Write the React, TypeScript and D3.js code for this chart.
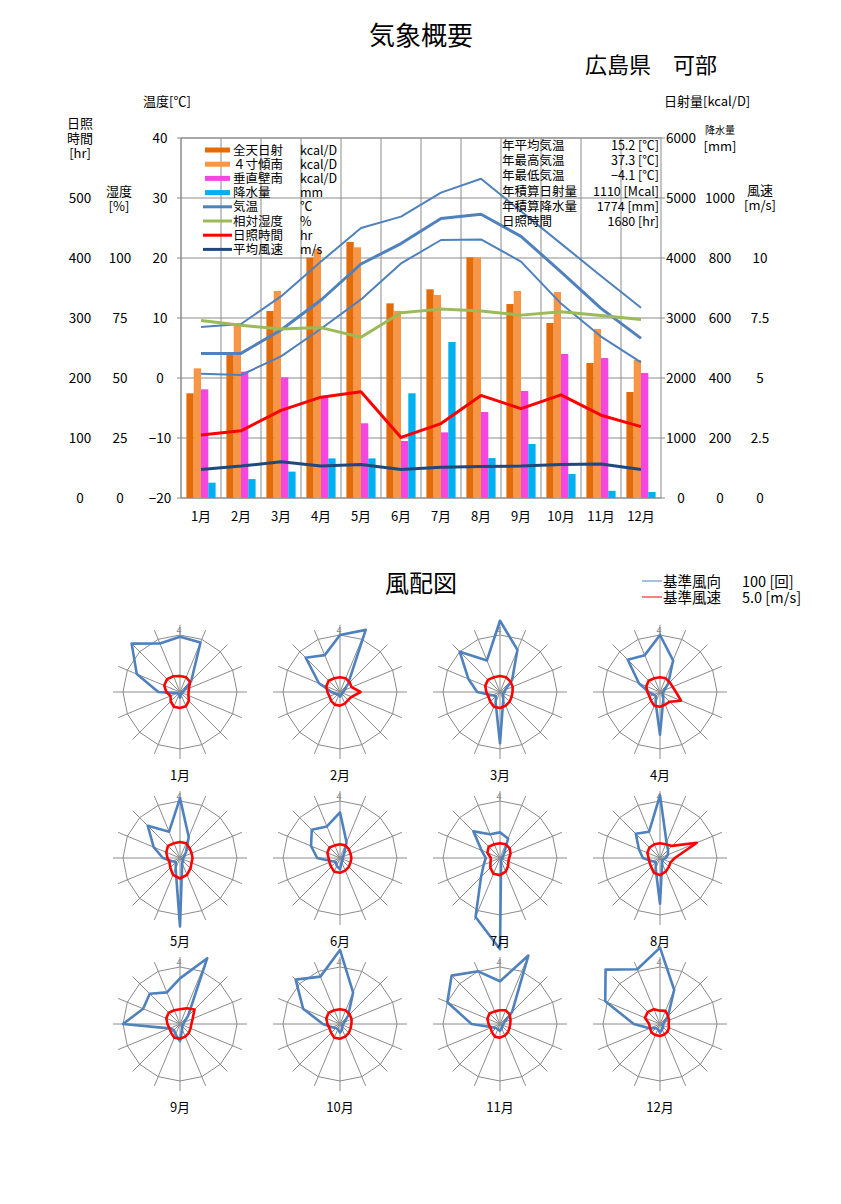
import React from 'react';
import * as d3 from 'd3';

const months = ['1月', '2月', '3月', '4月', '5月', '6月', '7月', '8月', '9月', '10月', '11月', '12月'];
const solarTotal = [1745, 2383, 3117, 4006, 4267, 3244, 3478, 4011, 3233, 2917, 2250, 1767];
const solarTilt = [2161, 2867, 3450, 4150, 4178, 3117, 3383, 4011, 3450, 3433, 2817, 2300];
const solarVertical = [1811, 2106, 2011, 1672, 1245, 950, 1094, 1433, 1783, 2400, 2333, 2083];
const precipitation = [51, 63, 88, 132, 132, 349, 520, 133, 180, 80, 24, 20];
const tempMax = [8.5, 9.0, 13.6, 19.4, 25.0, 26.9, 30.9, 33.2, 27.8, 22.4, 17.0, 11.7];
const tempMean = [4.1, 4.1, 8.0, 13.0, 19.0, 22.4, 26.6, 27.3, 23.6, 17.7, 11.6, 6.6];
const tempMin = [0.7, 0.5, 3.6, 8.2, 13.1, 19.1, 23.0, 23.1, 19.4, 12.4, 6.9, 2.6];
const humidity = [74, 72, 70.4, 71, 67, 77.2, 78.7, 77.9, 76.2, 77.6, 76, 74.4];
const sunshine = [105, 112, 146, 168, 177, 101, 124, 171, 149, 172, 138, 119];
const windSpeed = [1.19, 1.33, 1.51, 1.33, 1.4, 1.19, 1.28, 1.31, 1.33, 1.4, 1.42, 1.19];

const tempTicks = [-20, -10, 0, 10, 20, 30, 40];
const hrTicks = [0, 100, 200, 300, 400, 500];
const humTicks = [0, 25, 50, 75, 100];
const solarTicks = [0, 1000, 2000, 3000, 4000, 5000, 6000];
const precipTicks = [0, 200, 400, 600, 800, 1000];
const windTicks = [0, 2.5, 5, 7.5, 10];

const statLabels = ['年平均気温', '年最高気温', '年最低気温', '年積算日射量', '年積算降水量', '日照時間'];
const statValues = ['15.2 [℃]', '37.3 [℃]', '−4.1 [℃]', '1110 [Mcal]', '1774 [mm]', '1680 [hr]'];

// wind rose: 16 directions N, NNE, NE, ... NNW (clockwise)
const windFreq = [
  [97, 94, 28, 8, 5, 3, 3, 5, 10, 5, 5, 5, 38, 82, 120, 92],
  [100, 118, 20, 8, 6, 4, 5, 6, 8, 6, 6, 8, 15, 40, 85, 70],
  [125, 80, 30, 10, 8, 6, 8, 15, 90, 20, 10, 15, 40, 60, 100, 60],
  [100, 60, 20, 8, 6, 5, 8, 15, 75, 20, 10, 12, 20, 40, 80, 70],
  [105, 40, 15, 8, 6, 5, 8, 10, 120, 20, 10, 15, 30, 50, 80, 50],
  [80, 30, 10, 6, 5, 5, 6, 8, 20, 15, 10, 15, 40, 55, 70, 60],
  [45, 37, 10, 5, 5, 3, 3, 5, 160, 112, 47, 31, 25, 35, 66, 45],
  [110, 30, 20, 15, 10, 6, 6, 10, 80, 20, 10, 15, 30, 40, 60, 50],
  [80, 125, 20, 8, 6, 5, 6, 10, 30, 20, 15, 20, 100, 70, 75, 60],
  [130, 60, 20, 8, 6, 5, 6, 10, 15, 10, 10, 15, 30, 70, 110, 90],
  [75, 130, 30, 8, 6, 5, 6, 8, 12, 10, 10, 15, 50, 100, 120, 100],
  [134, 65, 20, 8, 6, 5, 8, 10, 15, 10, 10, 20, 46, 104, 135, 104],
];
const windDirSpeed = [
  [1.4, 1.4, 1.25, 0.85, 0.75, 0.8, 1.1, 1.35, 1.4, 1.4, 1.15, 0.9, 1.2, 1.5, 1.6, 1.5],
  [1.3, 1.3, 1.2, 1.1, 1.8, 1.1, 1.0, 1.1, 1.2, 1.2, 1.1, 1.0, 1.1, 1.3, 1.4, 1.3],
  [1.4, 1.4, 1.3, 1.2, 1.1, 1.1, 1.2, 1.3, 1.4, 1.4, 1.2, 1.1, 1.2, 1.4, 1.5, 1.4],
  [1.3, 1.3, 1.2, 1.2, 1.4, 2.0, 1.2, 1.2, 1.3, 1.3, 1.1, 1.0, 1.1, 1.3, 1.4, 1.3],
  [1.4, 1.4, 1.2, 1.1, 1.1, 1.1, 1.3, 1.6, 1.8, 1.6, 1.2, 1.0, 1.1, 1.3, 1.5, 1.4],
  [1.2, 1.2, 1.1, 1.0, 1.0, 1.0, 1.1, 1.2, 1.3, 1.3, 1.1, 1.0, 1.0, 1.2, 1.3, 1.2],
  [1.3, 1.3, 1.2, 1.0, 0.8, 0.8, 1.0, 1.3, 1.5, 1.5, 1.2, 0.9, 0.8, 1.2, 1.4, 1.3],
  [1.3, 1.3, 1.5, 3.5, 1.3, 1.0, 1.1, 1.3, 1.5, 1.4, 1.1, 1.0, 1.0, 1.2, 1.3, 1.3],
  [1.3, 1.5, 1.8, 1.2, 1.0, 1.0, 1.1, 1.2, 1.3, 1.3, 1.1, 1.0, 1.1, 1.3, 1.4, 1.3],
  [1.3, 1.3, 1.2, 1.1, 1.0, 1.0, 1.1, 1.2, 1.3, 1.3, 1.1, 1.0, 1.1, 1.3, 1.4, 1.3],
  [1.2, 1.3, 1.2, 1.0, 0.9, 0.9, 1.0, 1.1, 1.2, 1.2, 1.0, 0.9, 1.0, 1.2, 1.3, 1.2],
  [1.17, 1.25, 1.0, 0.85, 0.76, 0.85, 0.94, 1.0, 1.05, 1.05, 1.05, 0.95, 0.95, 1.43, 1.5, 1.4],
];

const FONT = "'Noto Sans CJK JP', 'Noto Sans', sans-serif";
const GRID = '#8c8c8c';
const C = {
  total: '#E36C09',
  tilt: '#F79646',
  vertical: '#F446E0',
  precip: '#00B0F0',
  temp: '#4F81BD',
  hum: '#9BBB59',
  sun: '#FF0000',
  wind: '#1F497D',
};

const plot = { left: 181, right: 661, top: 138, bottom: 498 };

const legendItems = [
  { label: '全天日射', unit: 'kcal/D', color: C.total, kind: 'bar' },
  { label: '４寸傾南', unit: 'kcal/D', color: C.tilt, kind: 'bar' },
  { label: '垂直壁南', unit: 'kcal/D', color: C.vertical, kind: 'bar' },
  { label: '降水量', unit: 'mm', color: C.precip, kind: 'bar' },
  { label: '気温', unit: '℃', color: C.temp, kind: 'line' },
  { label: '相対湿度', unit: '%', color: C.hum, kind: 'line' },
  { label: '日照時間', unit: 'hr', color: C.sun, kind: 'line' },
  { label: '平均風速', unit: 'm/s', color: C.wind, kind: 'line' },
];

function Rose({ cx, cy, freq, speed, label }: { cx: number; cy: number; freq: number[]; speed: number[]; label: string }) {
  const n = 16;
  const ang = (i: number) => (i * 2 * Math.PI) / n;
  const rF = d3.scaleLinear().domain([0, 100]).range([0, 57]);
  const rS = d3.scaleLinear().domain([0, 5]).range([0, 57]);
  const ring = d3.lineRadial<number>().angle((_, i) => ang(i)).radius(() => 57).curve(d3.curveLinearClosed)(d3.range(n))!;
  const fPath = d3.lineRadial<number>().angle((_, i) => ang(i)).radius((v) => rF(v)).curve(d3.curveLinearClosed)(freq)!;
  const sPath = d3.lineRadial<number>().angle((_, i) => ang(i)).radius((v) => rS(v)).curve(d3.curveLinearClosed)(speed)!;
  return (
    <g transform={`translate(${cx},${cy})`}>
      {d3.range(n).map((i) => (
        <line key={i} x1={0} y1={0} x2={67 * Math.sin(ang(i))} y2={-67 * Math.cos(ang(i))} stroke={GRID} strokeWidth={1} />
      ))}
      <path d={ring} fill="none" stroke={GRID} strokeWidth={1} />
      <text x={-1} y={-58} fontSize={9} fill="#888" textAnchor="middle" fontFamily={FONT}>4</text>
      <path d={fPath} fill="none" stroke={C.temp} strokeWidth={2.6} strokeLinejoin="round" />
      <path d={sPath} fill="none" stroke={C.sun} strokeWidth={2.6} strokeLinejoin="round" />
      <text x={0} y={88} fontSize={13} textAnchor="middle" fontFamily={FONT}>{label}</text>
    </g>
  );
}

export default function App() {
  const x = d3.scaleBand<string>().domain(months).range([plot.left, plot.right]);
  const barKeys = ['total', 'tilt', 'vertical', 'precip'];
  const xs = d3.scaleBand<string>().domain(barKeys).range([0, x.bandwidth()]).paddingInner(0).paddingOuter(0.74);
  const yT = d3.scaleLinear().domain([-20, 40]).range([plot.bottom, plot.top]);
  const yHr = d3.scaleLinear().domain([0, 600]).range([plot.bottom, plot.top]);
  const yHum = d3.scaleLinear().domain([0, 150]).range([plot.bottom, plot.top]);
  const ySolar = d3.scaleLinear().domain([0, 6000]).range([plot.bottom, plot.top]);
  const yPrecip = d3.scaleLinear().domain([0, 1200]).range([plot.bottom, plot.top]);
  const yWind = d3.scaleLinear().domain([0, 15]).range([plot.bottom, plot.top]);
  const cxm = (i: number) => x(months[i])! + x.bandwidth() / 2;
  const mkLine = (vals: number[], s: d3.ScaleLinear<number, number>) =>
    d3.line<number>().x((_, i) => cxm(i)).y((v) => s(v))(vals)!;

  const barSeries = [
    { key: 'total', vals: solarTotal, s: ySolar, color: C.total },
    { key: 'tilt', vals: solarTilt, s: ySolar, color: C.tilt },
    { key: 'vertical', vals: solarVertical, s: ySolar, color: C.vertical },
    { key: 'precip', vals: precipitation, s: yPrecip, color: C.precip },
  ];
  const lineSeries = [
    { vals: tempMax, s: yT, color: C.temp, w: 2 },
    { vals: tempMin, s: yT, color: C.temp, w: 2 },
    { vals: tempMean, s: yT, color: C.temp, w: 3 },
    { vals: humidity, s: yHum, color: C.hum, w: 3 },
    { vals: sunshine, s: yHr, color: C.sun, w: 3 },
    { vals: windSpeed, s: yWind, color: C.wind, w: 3 },
  ];

  const roseCols = [180, 340, 500, 660];
  const roseRows = [692, 858, 1024];

  return (
    <svg width={841} height={1204} style={{ position: 'absolute', left: 0, top: 0, background: '#fff' }} fontFamily={FONT}>
      <rect x={0} y={0} width={841} height={1204} fill="#fff" />
      <text x={421} y={45} fontSize={26} textAnchor="middle">気象概要</text>
      <text x={651} y={73} fontSize={22} textAnchor="middle">広島県　可部</text>

      {/* axis titles */}
      <text x={143} y={106} fontSize={13}>温度[℃]</text>
      <text x={80} y={128} fontSize={13} textAnchor="middle">日照</text>
      <text x={80} y={143} fontSize={13} textAnchor="middle">時間</text>
      <text x={80} y={158} fontSize={13} textAnchor="middle">[hr]</text>
      <text x={119} y={196} fontSize={13} textAnchor="middle">湿度</text>
      <text x={119} y={211} fontSize={13} textAnchor="middle">[%]</text>
      <text x={664} y={106} fontSize={13}>日射量[kcal/D]</text>
      <text x={720} y={134} fontSize={10} textAnchor="middle">降水量</text>
      <text x={720} y={151} fontSize={13} textAnchor="middle">[mm]</text>
      <text x={760} y={195} fontSize={13} textAnchor="middle">風速</text>
      <text x={760} y={210} fontSize={13} textAnchor="middle">[m/s]</text>

      {/* grid */}
      {tempTicks.map((t) => (
        <g key={t}>
          <line x1={plot.left - 4} x2={plot.right + 4} y1={yT(t)} y2={yT(t)} stroke={GRID} />
          <text x={160} y={yT(t) + 5} fontSize={13.5} textAnchor="middle">{t < 0 ? '−' + Math.abs(t) : t}</text>
        </g>
      ))}
      {months.map((m) => (
        <line key={m} x1={x(m)!} x2={x(m)!} y1={plot.top} y2={plot.bottom} stroke={GRID} />
      ))}
      <rect x={plot.left} y={plot.top} width={plot.right - plot.left} height={plot.bottom - plot.top} fill="none" stroke={GRID} />

      {hrTicks.map((t) => (
        <text key={t} x={80} y={yHr(t) + 5} fontSize={13.5} textAnchor="middle">{t}</text>
      ))}
      {humTicks.map((t) => (
        <text key={t} x={120} y={yHum(t) + 5} fontSize={13.5} textAnchor="middle">{t}</text>
      ))}
      {solarTicks.map((t) => (
        <text key={t} x={681} y={ySolar(t) + 5} fontSize={13.5} textAnchor="middle">{t}</text>
      ))}
      {precipTicks.map((t) => (
        <text key={t} x={720} y={yPrecip(t) + 5} fontSize={13.5} textAnchor="middle">{t}</text>
      ))}
      {windTicks.map((t) => (
        <text key={t} x={760} y={yWind(t) + 5} fontSize={13.5} textAnchor="middle">{t}</text>
      ))}

      {/* bars */}
      {barSeries.map((b) =>
        b.vals.map((v, i) => (
          <rect key={b.key + i} x={x(months[i])! + xs(b.key)!} y={b.s(v)} width={xs.bandwidth()} height={plot.bottom - b.s(v)} fill={b.color} />
        ))
      )}
      {/* lines */}
      {lineSeries.map((l, k) => (
        <path key={k} d={mkLine(l.vals, l.s)} fill="none" stroke={l.color} strokeWidth={l.w} strokeLinejoin="round" />
      ))}

      {months.map((m, i) => (
        <text key={m} x={cxm(i)} y={521} fontSize={13} textAnchor="middle">{m}</text>
      ))}

      {/* legend */}
      {legendItems.map((it, i) => {
        const cy = 150 + i * 14.2;
        return (
          <g key={it.label}>
            {it.kind === 'bar' ? (
              <rect x={205} y={cy - 2.5} width={25} height={5} fill={it.color} />
            ) : (
              <line x1={203} x2={232} y1={cy} y2={cy} stroke={it.color} strokeWidth={3} />
            )}
            <text x={233} y={cy + 4.5} fontSize={12.5}>{it.label}</text>
            <text x={300} y={cy + 4.5} fontSize={12.5}>{it.unit}</text>
          </g>
        );
      })}

      {/* stats */}
      {statLabels.map((s, i) => (
        <g key={s}>
          <text x={502} y={150 + i * 15.2} fontSize={12.5}>{s}</text>
          <text x={659} y={150 + i * 15.2} fontSize={12.5} textAnchor="end">{statValues[i]}</text>
        </g>
      ))}

      {/* wind rose section */}
      <text x={421} y={592} fontSize={24} textAnchor="middle">風配図</text>
      <line x1={642} x2={662} y1={581} y2={581} stroke={C.temp} strokeWidth={1} />
      <text x={663} y={587} fontSize={14.5}>基準風向</text>
      <text x={742} y={587} fontSize={14.5}>100 [回]</text>
      <line x1={642} x2={662} y1={597} y2={597} stroke={C.sun} strokeWidth={1} />
      <text x={663} y={603} fontSize={14.5}>基準風速</text>
      <text x={742} y={603} fontSize={14.5}>5.0 [m/s]</text>

      {months.map((m, i) => (
        <Rose key={m} cx={roseCols[i % 4]} cy={roseRows[Math.floor(i / 4)]} freq={windFreq[i]} speed={windDirSpeed[i]} label={m} />
      ))}
    </svg>
  );
}
